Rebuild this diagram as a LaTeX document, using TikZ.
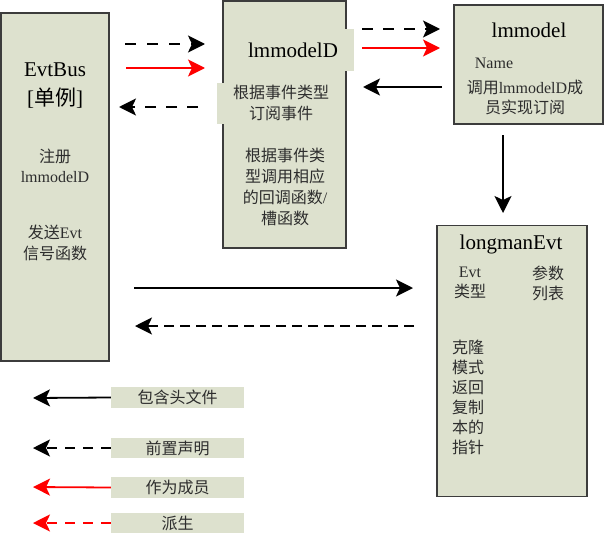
\documentclass[tikz,border=0pt]{standalone}
\usepackage{fontspec}
\setmainfont{Liberation Serif}
\newfontfamily\cjk{Noto Sans CJK SC}
\usetikzlibrary{arrows.meta}
\definecolor{boxfill}{RGB}{221,225,206}
\definecolor{boxline}{RGB}{60,60,60}
\definecolor{txt}{RGB}{45,45,45}
\tikzset{
  box/.style={draw=boxline, line width=1.2pt, fill=boxfill, inner sep=0pt},
  labelbg/.style={fill=boxfill, inner sep=0pt, align=center, text=txt},
  ttl/.style={inner sep=0pt, align=center, text=black, font=\fontsize{21}{29}\selectfont},
  sml/.style={inner sep=0pt, align=center, text=txt, font=\fontsize{16}{20.5}\selectfont},
  conn/.style={line width=1.8pt, -{Stealth[length=17pt,width=17pt,inset=4pt]}},
  dsh/.style={dash pattern=on 11pt off 11pt},
}
\begin{document}
\begin{tikzpicture}[x=1pt,y=-1pt]
\useasboundingbox (0,0) rectangle (604,535);
% boxes
\node[box, minimum width=108pt, minimum height=348pt] (evtbus) at (55,187) {};
\node[box, minimum width=123pt, minimum height=247pt] (lmd) at (284.5,124.5) {};
\node[box, minimum width=149pt, minimum height=119pt] (lm) at (528.5,64.5) {};
\node[box, minimum width=150pt, minimum height=271pt] (lev) at (512,361) {};
% EvtBus texts
\node[ttl] (evtbusT) at (55,85.5) {EvtBus\\\relax[{\cjk 单例}]};
\node[sml] (evtbusA) at (55,166) {{\cjk 注册}\\lmmodelD};
\node[sml] (evtbusB) at (55,243) {{\cjk 发送}Evt\\{\cjk 信号函数}};
% lmmodelD texts
\node[labelbg, font=\fontsize{21}{29}\selectfont, text=black, minimum width=122pt, minimum height=42pt] (lmdT) at (293,50) {lmmodelD};
\node[labelbg, font=\fontsize{16}{20.5}\selectfont, minimum width=128pt, minimum height=41pt] (lmdA) at (281,103) {{\cjk 根据事件类型}\\{\cjk 订阅事件}};
\node[sml, font=\fontsize{16}{21}\selectfont] (lmdB) at (285,186.5) {{\cjk 根据事件类}\\{\cjk 型调用相应}\\{\cjk 的回调函数}/\\{\cjk 槽函数}};
% lmmodel texts
\node[ttl] (lmT) at (529,30) {lmmodel};
\node[sml] (lmA) at (494,63) {Name};
\node[sml, font=\fontsize{16}{20}\selectfont] (lmB) at (525,97) {{\cjk 调用}lmmodelD{\cjk 成}\\{\cjk 员实现订阅}};
% longmanEvt texts
\node[ttl] (levT) at (511,244) {longmanEvt};
\node[sml, font=\fontsize{16}{20}\selectfont] (levA) at (470,283) {Evt\\{\cjk 类型}};
\node[sml, font=\fontsize{16}{20}\selectfont] (levB) at (548,283) {{\cjk 参数}\\{\cjk 列表}};
\node[sml, font=\fontsize{16}{20}\selectfont] (levC) at (468,397) {{\cjk 克隆}\\{\cjk 模式}\\{\cjk 返回}\\{\cjk 复制}\\{\cjk 本的}\\{\cjk 指针}};
% legend
\node[labelbg, font=\fontsize{16}{20}\selectfont, minimum width=133pt, minimum height=21pt] (lg1) at (177.5,397.5) {\cjk 包含头文件};
\node[labelbg, font=\fontsize{16}{20}\selectfont, minimum width=133pt, minimum height=20pt] (lg2) at (177.5,448) {\cjk 前置声明};
\node[labelbg, font=\fontsize{16}{20}\selectfont, minimum width=133pt, minimum height=21pt] (lg3) at (177.5,487.5) {\cjk 作为成员};
\node[labelbg, font=\fontsize{16}{20}\selectfont, minimum width=133pt, minimum height=20pt] (lg4) at (177.5,523) {\cjk 派生};
% connector end points
\coordinate (a1s) at (125,44);  \coordinate (a1e) at (205,44);
\coordinate (a2s) at (126,68);  \coordinate (a2e) at (205,68);
\coordinate (a3s) at (198,107); \coordinate (a3e) at (119,107);
\coordinate (a4s) at (134,288); \coordinate (a4e) at (413,288);
\coordinate (a5s) at (414,326); \coordinate (a5e) at (135,326);
\coordinate (a6s) at (362,29);  \coordinate (a6e) at (440,29);
\coordinate (a7s) at (362,48);  \coordinate (a7e) at (440,48);
\coordinate (a8s) at (442,87);  \coordinate (a8e) at (363,87);
\coordinate (a9s) at (503,135); \coordinate (a9e) at (503,213);
\coordinate (l1) at (33,398);
\coordinate (l2) at (33,448);
\coordinate (l3) at (33,487);
\coordinate (l4) at (33,523);
% connectors
\draw[conn, dsh] (a1s) -- (a1e);
\draw[conn, red] (a2s) -- (a2e);
\draw[conn, dash pattern=on 11pt off 10pt] (a3s) -- (a3e);
\draw[conn] (a4s) -- (a4e);
\draw[conn, dash pattern=on 10pt off 6pt] (a5s) -- (a5e);
\draw[conn, dash pattern=on 11pt off 10pt] (a6s) -- (a6e);
\draw[conn, red] (a7s) -- (a7e);
\draw[conn] (a8s) -- (a8e);
\draw[conn] (a9s) -- (a9e);
% legend arrows
\draw[conn] (lg1.west) -- (l1);
\draw[conn, dash pattern=on 10pt off 8pt] (lg2.west) -- (l2);
\draw[conn, red] (lg3.west) -- (l3);
\draw[conn, red, dash pattern=on 10pt off 8pt] (lg4.west) -- (l4);
\end{tikzpicture}
\end{document}
